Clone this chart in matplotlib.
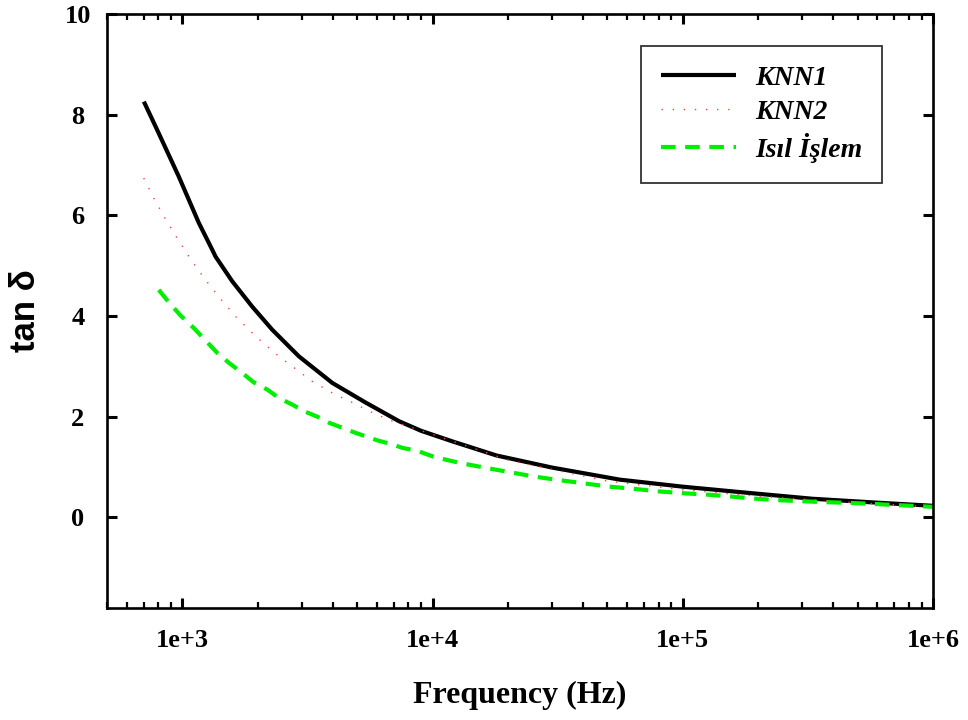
import matplotlib
matplotlib.use("Agg")
import matplotlib.pyplot as plt
from matplotlib.ticker import LogLocator, FixedLocator, NullFormatter

# ---- data ----
knn1_f = [702, 805, 968, 1164, 1316, 1358, 1583, 1900, 2285, 2922, 3979, 5408, 7350,
          9000, 12000, 18000, 30000, 56000, 100000, 180000, 330000, 610000, 1000000]
knn1_v = [8.26, 7.63, 6.77, 5.85, 5.32, 5.18, 4.69, 4.19, 3.73, 3.20, 2.67, 2.28, 1.91,
          1.72, 1.51, 1.23, 0.99, 0.75, 0.61, 0.49, 0.37, 0.29, 0.23]

knn2_f = [701, 769, 851, 953, 1072, 1219, 1399, 1641, 1952, 2332, 2800, 3310,
          3980, 4786, 5754, 6918, 8318, 10970, 20000, 50000, 100000, 200000,
          500000, 1000000]
knn2_v = [6.74, 6.34, 5.95, 5.55, 5.15, 4.76, 4.38, 3.98, 3.61, 3.27, 2.97, 2.70,
          2.47, 2.28, 2.08, 1.91, 1.78, 1.58, 1.14, 0.72, 0.55, 0.42, 0.29, 0.21]

isil_f = [805, 884, 984, 1112, 1219, 1378, 1535, 1735, 1932, 2184, 2433, 2752,
          3064, 3466, 3858, 4362, 4855, 5408, 6022, 6918, 7590, 8714, 10160,
          12790, 16100, 20280, 25530, 32140, 40460, 50940, 63200, 78400, 100000,
          122400, 151800, 188200, 237000, 293800, 364000, 451500, 568000, 704000,
          873000, 1000000]
isil_v = [4.52, 4.27, 4.01, 3.76, 3.55, 3.27, 3.07, 2.87, 2.68, 2.54, 2.37, 2.24,
          2.11, 2.00, 1.88, 1.78, 1.69, 1.61, 1.53, 1.45, 1.38, 1.32, 1.20,
          1.085, 0.99, 0.90, 0.81, 0.74, 0.675, 0.61, 0.57, 0.52, 0.48,
          0.456, 0.42, 0.377, 0.343, 0.323, 0.304, 0.29, 0.27, 0.245,
          0.225, 0.21]

labels = ["KNN1", "KNN2", "Isıl İşlem"]
xticks = [1e3, 1e4, 1e5, 1e6]
xticklabels = ["1e+3", "1e+4", "1e+5", "1e+6"]
yticks = [0, 2, 4, 6, 8, 10]
yticklabels = ["0", "2", "4", "6", "8", "10"]

serif = ["Liberation Serif", "DejaVu Serif"]

fig = plt.figure(figsize=(9.68, 7.2), dpi=100)
ax = fig.add_axes([107/968, 1-608/720, (933-107)/968, (608-14)/720])

ax.plot(knn1_f, knn1_v, color="black", lw=3.0, solid_capstyle="butt",
        solid_joinstyle="round", label=labels[0])
ax.plot(knn2_f, knn2_v, color="#ff4040", lw=1.0, linestyle=(0, (1, 7)), label=labels[1])
ax.plot(isil_f, isil_v, color="#00ee00", lw=3.0, linestyle=(0, (3.5, 2.3)), label=labels[2])

ax.set_xscale("log")
ax.set_xlim(500, 1e6)
ax.set_ylim(-1.8, 10)

ax.xaxis.set_major_locator(FixedLocator(xticks))
ax.set_xticklabels(xticklabels)
ax.xaxis.set_minor_locator(LogLocator(base=10, subs=range(2, 10)))
ax.xaxis.set_minor_formatter(NullFormatter())
ax.set_yticks(yticks)
ax.set_yticklabels(yticklabels)

for s in ax.spines.values():
    s.set_linewidth(1.9)

ax.tick_params(axis="both", which="major", direction="in", length=7, width=2.2,
               top=True, right=True)
ax.tick_params(axis="both", which="minor", direction="in", length=4, width=1.6,
               top=True, right=True)
ax.tick_params(axis="x", which="major", pad=15)
ax.tick_params(axis="y", which="major", pad=21)

for lbl in ax.get_xticklabels():
    lbl.set_fontfamily(serif)
    lbl.set_fontweight("bold")
    lbl.set_fontsize(19)
for lbl in ax.get_yticklabels():
    lbl.set_fontfamily(serif)
    lbl.set_fontweight("bold")
    lbl.set_fontsize(19)
    lbl.set_ha("center")

ax.set_xlabel("Frequency (Hz)", fontfamily=serif, fontweight="bold", fontsize=23, labelpad=21)
ax.set_ylabel("tan δ", fontfamily=["Liberation Sans", "DejaVu Sans"], fontweight="bold",
              fontsize=25, labelpad=16)

leg = ax.legend(loc="upper right", bbox_to_anchor=(0.938, 0.946),
                prop={"family": serif, "weight": "bold", "style": "italic", "size": 20},
                frameon=True, fancybox=False, handlelength=2.7, handletextpad=0.7,
                labelspacing=0.3, borderpad=0.7, borderaxespad=0)
leg.get_frame().set_edgecolor("black")
leg.get_frame().set_linewidth(1.3)

fig.savefig("out.png", dpi=100)
